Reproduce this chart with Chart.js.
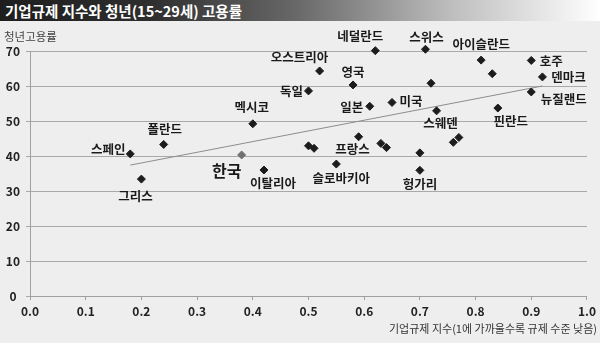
<!DOCTYPE html>
<html>
<head>
<meta charset="utf-8">
<script src="https://cdn.jsdelivr.net/npm/chart.js@4"></script>
<style>
html, body { margin: 0; padding: 0; background: #eeeeee; }
#wrap { position: relative; width: 600px; height: 343px; overflow: hidden; font-family: "Noto Sans CJK KR", sans-serif; }
#title { position: absolute; left: 0; top: 0; width: 600px; height: 21px; box-sizing: border-box; padding-left: 5px;
  background: linear-gradient(to right, #1e1e1e 0%, #2e2e2e 25%, #6a6a6a 50%, #bdbdbd 75%, #ffffff 100%);
  color: #fff; font-weight: bold; font-size: 14.5px; line-height: 21px; white-space: nowrap; }
#ytitle { position: absolute; left: 4px; top: 28px; font-size: 11.5px; color: #444; white-space: nowrap; }
#xtitle { position: absolute; right: 3px; top: 320px; font-size: 11px; color: #333; white-space: nowrap; }
canvas { position: absolute; left: 0; top: 0; }
</style>
</head>
<body>
<div id="wrap">
  <canvas id="chart" width="600" height="343"></canvas>
  <div id="title">기업규제 지수와 청년(15~29세) 고용률</div>
  <div id="ytitle">청년고용률</div>
  <div id="xtitle">기업규제 지수(1에 가까울수록 규제 수준 낮음)</div>
</div>
<script>
// data
var countries = ['스페인', '그리스', '폴란드', '한국', '멕시코', '이탈리아', '', '', '독일', '오스트리아',
                 '슬로바키아', '영국', '프랑스', '일본', '네덜란드', '', '', '미국', '', '헝가리',
                 '스위스', '', '스웨덴', '', '', '아이슬란드', '', '핀란드', '호주', '덴마크', '뉴질랜드'];
var regIndex = [0.18, 0.20, 0.24, 0.38, 0.40, 0.42, 0.50, 0.51, 0.50, 0.52,
                0.55, 0.58, 0.59, 0.61, 0.62, 0.63, 0.64, 0.65, 0.70, 0.70,
                0.71, 0.72, 0.73, 0.76, 0.77, 0.81, 0.83, 0.84, 0.90, 0.92, 0.90];
var youthEmp = [40.6, 33.4, 43.3, 40.3, 49.2, 36.0, 42.9, 42.2, 58.6, 64.3,
                37.7, 60.3, 45.5, 54.2, 70.1, 43.6, 42.4, 55.3, 40.9, 35.9,
                70.5, 60.8, 52.9, 43.9, 45.3, 67.4, 63.5, 53.7, 67.3, 62.6, 58.3];
var trendX = [0.18, 0.92];
var trendY = [37.4, 60.0];
var highlight = '한국';

// label placement relative to each point (px)
var labelOffsets = [[-22, -5], [-6, 17], [1, -15], [-15, 15.5], [-1, -17], [9, 13], null, null, [-17, 0], [-20, -14],
                    [5, 14.5], [0, -12.5], [-6, 12], [-18, 1], [-15, -14], null, null, [19, -1], null, [0, 14],
                    [1, -12], null, [4, 12.5], null, null, [0, -15.5], null, [13, 13], [20, 0.5], [26, 0.5], [32.5, 7]];

var points = regIndex.map(function (v, i) { return {x: v, y: youthEmp[i]}; });
var trend = trendX.map(function (v, i) { return {x: v, y: trendY[i]}; });
var colors = countries.map(function (c) { return c === highlight ? '#707070' : '#1c1c1c'; });

var pointLabels = {
    id: 'pointLabels',
    afterDatasetsDraw: function (chart) {
        var ctx = chart.ctx, xs = chart.scales.x, ys = chart.scales.y;
        ctx.save();
        ctx.textAlign = 'center';
        ctx.textBaseline = 'middle';
        ctx.fillStyle = '#1a1a1a';
        for (var i = 0; i < countries.length; i++) {
            if (!countries[i]) continue;
            var off = labelOffsets[i];
            ctx.font = countries[i] === highlight ? 'bold 16px "Noto Sans CJK KR"' : 'bold 12.5px "Noto Sans CJK KR"';
            ctx.fillText(countries[i], xs.getPixelForValue(regIndex[i]) + off[0], ys.getPixelForValue(youthEmp[i]) + off[1]);
        }
        ctx.restore();
    }
};

var ctx = document.getElementById('chart').getContext('2d');
var myChart = new Chart(ctx, {
    type: 'scatter',
    data: {
        datasets: [{
            type: 'line',
            data: trend,
            borderColor: '#8c8c8c',
            borderWidth: 1,
            pointRadius: 0,
            fill: false,
            order: 2
        }, {
            data: points,
            pointStyle: 'rectRot',
            pointRadius: 4,
            pointBorderWidth: 1,
            backgroundColor: colors,
            borderColor: colors,
            clip: false,
            order: 1
        }]
    },
    options: {
        responsive: false,
        animation: false,
        layout: { padding: { top: 51, right: 8, left: 0, bottom: 0 } },
        plugins: { legend: { display: false }, tooltip: { enabled: false } },
        scales: {
            x: {
                type: 'linear',
                min: 0,
                max: 1,
                afterFit: function (s) { s.height = 47; },
                ticks: {
                    stepSize: 0.1,
                    padding: 4,
                    color: '#222',
                    font: { family: '"Noto Sans CJK KR"', size: 12, weight: 'bold' },
                    callback: function (v) { return v.toFixed(1); }
                },
                grid: { drawOnChartArea: false, tickLength: 4, color: '#a0a0a0' },
                border: { color: '#a0a0a0' }
            },
            y: {
                min: 0,
                max: 70,
                afterFit: function (s) { s.width = 30; },
                ticks: {
                    stepSize: 10,
                    padding: 6,
                    crossAlign: 'center',
                    color: '#222',
                    font: { family: '"Noto Sans CJK KR"', size: 12, weight: 'bold' }
                },
                grid: { tickLength: 4, color: '#a9a9a9' },
                border: { color: '#a0a0a0' }
            }
        }
    },
    plugins: [pointLabels]
});
</script>
</body>
</html>
